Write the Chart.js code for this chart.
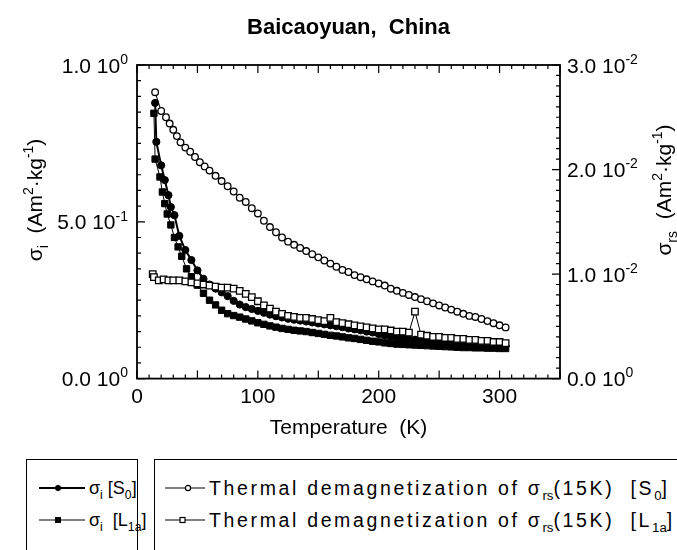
<!DOCTYPE html>
<html>
<head>
<meta charset="utf-8">
<script src="https://cdn.jsdelivr.net/npm/chart.js@4.4.0/dist/chart.umd.min.js"></script>
<style>
  html, body { margin: 0; padding: 0; background: #fff; }
  body { width: 677px; height: 550px; position: relative; overflow: hidden; }
  #wrap { position: absolute; left: 0; top: 0; width: 677px; height: 455px; }
  .legend { position: absolute; border: 1.5px solid #000; background: #fff; color: #000;
            font-family: "Liberation Sans", Arial, sans-serif; font-size: 18px; }
  .legend.wide { font-size: 19.5px; letter-spacing: 2.65px; }
  .legend .row { position: absolute; height: 24px; white-space: nowrap; display: flex; align-items: center; }
  .legend svg { flex: none; margin-right: 4px; }
  sub, sup { font-size: 68%; line-height: 0; letter-spacing: 0; }
</style>
</head>
<body>
<div id="wrap"><canvas id="chart" width="677" height="455"></canvas></div>

<div class="legend" style="left:26px; top:459px; width:110px; height:120px;">
  <div class="row" style="top:16px; left:12px;">
    <svg width="46" height="12"><line x1="0" y1="6" x2="46" y2="6" stroke="#000" stroke-width="2"/><circle cx="19" cy="6" r="3" fill="#000"/></svg>
    <span>σ<sub>i</sub> [S<sub>0</sub>]</span>
  </div>
  <div class="row" style="top:48px; left:12px;">
    <svg width="46" height="12"><line x1="0" y1="6" x2="46" y2="6" stroke="#000" stroke-width="1"/><rect x="16" y="3" width="6" height="6" fill="#000"/></svg>
    <span>σ<sub>i</sub> &nbsp;[L<sub>1a</sub>]</span>
  </div>
</div>

<div class="legend wide" style="left:154px; top:459px; width:560px; height:120px;">
  <div class="row" style="top:16px; left:10px;">
    <svg width="40" height="12"><line x1="0" y1="6" x2="40" y2="6" stroke="#000" stroke-width="1.2"/><circle cx="23" cy="6" r="2.6" fill="#fff" stroke="#000" stroke-width="1.2"/></svg>
    <span>Thermal demagnetization of σ<sub>rs</sub>(15K) &nbsp;[S<sub>0</sub>]</span>
  </div>
  <div class="row" style="top:48px; left:10px;">
    <svg width="40" height="12"><line x1="0" y1="6" x2="40" y2="6" stroke="#000" stroke-width="1.2"/><rect x="15" y="3.5" width="5" height="5" fill="#fff" stroke="#000" stroke-width="1.2"/></svg>
    <span>Thermal demagnetization of σ<sub>rs</sub>(15K) &nbsp;[L<sub>1a</sub>]</span>
  </div>
</div>

<script>
// Données (température en K)
const tempSigmaS0 = [15, 16, 20, 23, 26, 28, 31, 35, 40, 45, 50, 55, 60, 65, 70, 75, 80, 85, 90, 95,
  100, 105, 110, 115, 120, 125, 130, 135, 140, 145, 150, 155, 160, 165, 170, 175, 180, 185, 190, 195,
  200, 205, 210, 215, 220, 225, 230, 235, 240, 245, 250, 255, 260, 265, 270, 275, 280, 285, 290, 295, 300, 305];
const sigmaS0 = [0.879, 0.755, 0.680, 0.633, 0.585, 0.547, 0.521, 0.455, 0.410, 0.378, 0.345, 0.318, 0.300, 0.287, 0.275, 0.263, 0.248, 0.236, 0.228, 0.222,
  0.216, 0.210, 0.204, 0.199, 0.195, 0.191, 0.188, 0.185, 0.182, 0.179, 0.176, 0.173, 0.170, 0.167, 0.164, 0.160, 0.157, 0.154, 0.150, 0.147,
  0.142, 0.138, 0.134, 0.131, 0.128, 0.126, 0.124, 0.122, 0.120, 0.118, 0.117, 0.115, 0.114, 0.113, 0.111, 0.110, 0.109, 0.108, 0.107, 0.106, 0.105, 0.104];

const tempSigmaL1a = [14, 15, 19, 21, 23, 25, 28, 31, 34, 37, 41, 45, 50, 55, 60, 65, 70, 75, 80, 85, 90, 95,
  100, 105, 110, 115, 120, 125, 130, 135, 140, 145, 150, 155, 160, 165, 170, 175, 180, 185, 190, 195,
  200, 205, 210, 215, 220, 225, 230, 235, 240, 245, 250, 255, 260, 265, 270, 275, 280, 285, 290, 295, 300, 305];
const sigmaL1a = [0.846, 0.700, 0.643, 0.595, 0.558, 0.525, 0.490, 0.450, 0.420, 0.390, 0.350, 0.325, 0.298, 0.272, 0.250, 0.235, 0.218, 0.207, 0.201, 0.196, 0.190, 0.184,
  0.178, 0.173, 0.168, 0.164, 0.160, 0.157, 0.154, 0.152, 0.150, 0.147, 0.144, 0.141, 0.138, 0.136, 0.133, 0.130, 0.128, 0.125, 0.122, 0.119,
  0.117, 0.114, 0.112, 0.110, 0.109, 0.108, 0.107, 0.106, 0.105, 0.104, 0.103, 0.102, 0.101, 0.100, 0.099, 0.099, 0.098, 0.098, 0.097, 0.097, 0.096, 0.096];

const tempThermS0 = [15, 20, 24, 27, 30, 33, 36, 40, 44, 48, 52, 56, 60, 65, 70, 75, 80, 85, 90, 95,
  100, 105, 110, 115, 120, 125, 130, 135, 140, 145, 150, 155, 160, 165, 170, 175, 180, 185, 190, 195,
  200, 205, 210, 215, 220, 225, 230, 235, 240, 245, 250, 255, 260, 265, 270, 275, 280, 285, 290, 295, 300, 305];
const thermS0 = [0.0274, 0.0256, 0.0250, 0.0244, 0.0238, 0.0232, 0.0226, 0.0221, 0.0217, 0.0212, 0.0207, 0.0203, 0.0199, 0.0194, 0.0189, 0.0184, 0.0179, 0.0173, 0.0169, 0.0163,
  0.0158, 0.0151, 0.0145, 0.0140, 0.0135, 0.0131, 0.0128, 0.0125, 0.0122, 0.0119, 0.0116, 0.0113, 0.0110, 0.0107, 0.0104, 0.0102, 0.0099, 0.0097, 0.0095, 0.0093,
  0.0091, 0.0089, 0.0086, 0.0084, 0.0082, 0.0080, 0.0078, 0.0076, 0.0074, 0.0072, 0.0070, 0.0068, 0.0066, 0.0064, 0.0062, 0.0060, 0.0059, 0.0057, 0.0055, 0.0053, 0.0051, 0.0049];

const tempThermL1a = [13, 14, 18, 22, 26, 30, 35, 40, 45, 50, 55, 60, 65, 70, 75, 80, 85, 90, 95,
  100, 105, 110, 115, 120, 125, 130, 135, 140, 145, 150, 155, 160, 165, 170, 175, 180, 185, 190, 195,
  200, 205, 210, 215, 220, 225, 230, 235, 240, 245, 250, 255, 260, 265, 270, 275, 280, 285, 290, 295, 300, 305];
const thermL1a = [0.0100, 0.0097, 0.0094, 0.0095, 0.0094, 0.0094, 0.0094, 0.0093, 0.0092, 0.0091, 0.0090, 0.0089, 0.0088, 0.0087, 0.0087, 0.0086, 0.0084, 0.0081, 0.0078,
  0.0074, 0.0070, 0.0067, 0.0064, 0.0062, 0.0060, 0.0059, 0.0058, 0.0058, 0.0057, 0.0056, 0.0055, 0.0058, 0.0054, 0.0053, 0.0052, 0.0051, 0.0050, 0.0049, 0.0048,
  0.0047, 0.0047, 0.0046, 0.0045, 0.0045, 0.0044, 0.0064, 0.0042, 0.0041, 0.0040, 0.0040, 0.0039, 0.0039, 0.0038, 0.0038, 0.0037, 0.0037, 0.0036, 0.0036, 0.0035, 0.0035, 0.0034];

// Graduations
const xTickValues = [0, 100, 200, 300];
const leftTickValues = [0, 0.5, 1.0];
const leftTickMant = ['0.0', '5.0', '1.0'];
const leftTickExp = ['0', '-1', '0'];
const rightTickValues = [0, 0.01, 0.02, 0.03];
const rightTickMant = ['0.0', '1.0', '2.0', '3.0'];
const rightTickExp = ['0', '-2', '-2', '-2'];

const FONT = '"Liberation Sans", Arial, Helvetica, sans-serif';

function toXY(xs, ys) {
  return xs.map((x, i) => ({ x: x, y: ys[i] }));
}

// texte avec exposants / indices : parts = [[texte, 'sup'|'sub'|'']]
function drawRich(ctx, parts, x, y, size, align) {
  const small = Math.round(size * 0.68);
  let total = 0;
  const widths = parts.map(p => {
    ctx.font = (p[1] ? small : size) + 'px ' + FONT;
    const w = ctx.measureText(p[0]).width;
    total += w;
    return w;
  });
  let cx = x;
  if (align === 'right') cx = x - total;
  if (align === 'center') cx = x - total / 2;
  ctx.textAlign = 'left';
  ctx.textBaseline = 'alphabetic';
  parts.forEach((p, i) => {
    ctx.font = (p[1] ? small : size) + 'px ' + FONT;
    let dy = 0;
    if (p[1] === 'sup') dy = -size * 0.42;
    if (p[1] === 'sub') dy = size * 0.28;
    ctx.fillText(p[0], cx, y + dy);
    cx += widths[i];
  });
}

const framePlugin = {
  id: 'frame',
  afterDraw(chart) {
    const ctx = chart.ctx;
    const a = chart.chartArea;
    const xs = chart.scales.x, ys = chart.scales.y, ys1 = chart.scales.y1;
    ctx.save();
    ctx.strokeStyle = '#000';
    ctx.fillStyle = '#000';
    ctx.lineWidth = 1.8;
    ctx.strokeRect(a.left, a.top, a.right - a.left, a.bottom - a.top);

    ctx.lineWidth = 1.2;
    ctx.beginPath();
    // haut et bas : tous les 10 K, grands à 50 K
    for (let i = 0; i <= 35; i++) {
      const px = xs.getPixelForValue(i * 10);
      const len = i % 5 === 0 ? 8 : 4;
      ctx.moveTo(px, a.bottom); ctx.lineTo(px, a.bottom - len);
      ctx.moveTo(px, a.top); ctx.lineTo(px, a.top + len);
    }
    // gauche
    for (let i = 0; i <= 20; i++) {
      const py = ys.getPixelForValue(i * 0.05);
      const len = i % 10 === 0 ? 8 : 4;
      ctx.moveTo(a.left, py); ctx.lineTo(a.left + len, py);
    }
    // droite
    for (let i = 0; i <= 30; i++) {
      const py = ys1.getPixelForValue(i * 0.001);
      const len = i % 10 === 0 ? 8 : 4;
      ctx.moveTo(a.right, py); ctx.lineTo(a.right - len, py);
    }
    ctx.stroke();

    const size = 21;
    leftTickValues.forEach((v, i) => {
      const py = ys.getPixelForValue(v);
      drawRich(ctx, [[leftTickMant[i] + ' 10', ''], [leftTickExp[i], 'sup']], a.left - 9, py + size * 0.36, size, 'right');
    });
    rightTickValues.forEach((v, i) => {
      const py = ys1.getPixelForValue(v);
      drawRich(ctx, [[rightTickMant[i] + ' 10', ''], [rightTickExp[i], 'sup']], a.right + 7, py + size * 0.36, size, 'left');
    });

    // titres des axes y
    ctx.save();
    ctx.translate(42, 200);
    ctx.rotate(-Math.PI / 2);
    drawRich(ctx, [['σ', ''], ['i', 'sub'], ['  (Am', ''], ['2', 'sup'], ['·kg', ''], ['-1', 'sup'], [')', '']], 0, 0, size, 'center');
    ctx.restore();

    ctx.save();
    ctx.translate(671, 190);
    ctx.rotate(-Math.PI / 2);
    drawRich(ctx, [['σ', ''], ['rs', 'sub'], ['  (Am', ''], ['2', 'sup'], ['·kg', ''], ['-1', 'sup'], [')', '']], 0, 0, size, 'center');
    ctx.restore();

    ctx.restore();
  }
};

const ctx = document.getElementById('chart').getContext('2d');
const chart = new Chart(ctx, {
  type: 'line',
  data: {
    datasets: [
      {
        label: 'Thermal demagnetization of σrs(15K) [L1a]',
        data: toXY(tempThermL1a, thermL1a),
        yAxisID: 'y1',
        borderColor: '#000', borderWidth: 1,
        pointStyle: 'rect', pointRadius: 4.6, pointBorderWidth: 1.3,
        pointBackgroundColor: '#fff', pointBorderColor: '#000',
        order: 0
      },
      {
        label: 'Thermal demagnetization of σrs(15K) [S0]',
        data: toXY(tempThermS0, thermS0),
        yAxisID: 'y1',
        borderColor: '#000', borderWidth: 1,
        pointStyle: 'circle', pointRadius: 3.3, pointBorderWidth: 1.3,
        pointBackgroundColor: '#fff', pointBorderColor: '#000',
        order: 1
      },
      {
        label: 'σi [S0]',
        data: toXY(tempSigmaS0, sigmaS0),
        yAxisID: 'y',
        borderColor: '#000', borderWidth: 2,
        pointStyle: 'circle', pointRadius: 3.6, pointBorderWidth: 1,
        pointBackgroundColor: '#000', pointBorderColor: '#000',
        order: 2
      },
      {
        label: 'σi [L1a]',
        data: toXY(tempSigmaL1a, sigmaL1a),
        yAxisID: 'y',
        borderColor: '#000', borderWidth: 1,
        pointStyle: 'rect', pointRadius: 4.5, pointBorderWidth: 1,
        pointBackgroundColor: '#000', pointBorderColor: '#000',
        order: 3
      }
    ]
  },
  options: {
    responsive: false,
    animation: false,
    events: [],
    layout: { padding: { left: 137, right: 117, top: 0, bottom: 12 } },
    elements: { line: { tension: 0 } },
    plugins: {
      legend: { display: false },
      tooltip: { enabled: false },
      title: {
        display: true,
        text: 'Baicaoyuan,  China',
        color: '#000',
        font: { family: FONT, size: 22, weight: 'bold' },
        padding: { top: 15, bottom: 23.6 }
      }
    },
    scales: {
      x: {
        type: 'linear',
        min: 0,
        max: 350,
        position: 'bottom',
        afterBuildTicks: scale => { scale.ticks = xTickValues.map(v => ({ value: v })); },
        grid: { display: false, drawTicks: false },
        border: { display: false },
        ticks: { color: '#000', font: { family: FONT, size: 21 }, padding: 6, maxRotation: 0 },
        title: {
          display: true,
          text: 'Temperature  (K)',
          color: '#000',
          font: { family: FONT, size: 21 },
          padding: { top: 0, bottom: 2 }
        }
      },
      y: { type: 'linear', min: 0, max: 1, display: false },
      y1: { type: 'linear', min: 0, max: 0.03, display: false, position: 'right' }
    }
  },
  plugins: [framePlugin]
});
</script>
</body>
</html>
